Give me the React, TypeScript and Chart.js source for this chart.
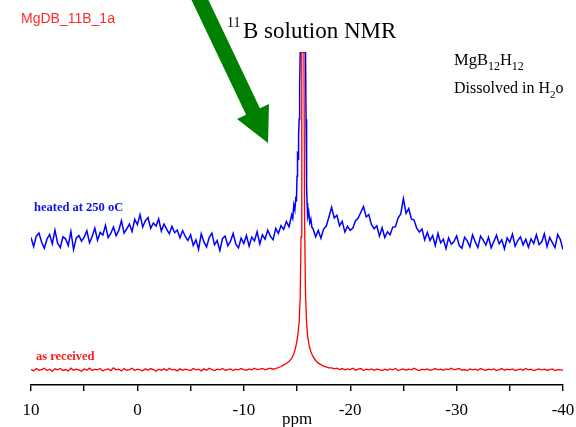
import React, { useEffect, useRef } from "react";
import { Chart, registerables } from "chart.js";

Chart.register(...registerables);

// ---- data (ppm axis reversed, intensity in arbitrary units) ----
const xTicksMajor = [10, 0, -10, -20, -30, -40];

const gridStep = 0.25;

// "heated at 250 oC" spectrum, 10 -> -14.5 ppm every 0.25 ppm
const blueLeftStart = 10;
const blueLeft = [
  44.8, 42.1, 45.2, 46.1, 43.4, 41.6, 44.3, 45.7, 42.9, 47.0, 43.1, 41.8, 45.0, 44.4, 42.4, 46.6, 41.2, 44.6, 45.4, 43.7,
  44.9, 46.8, 43.2, 45.1, 47.6, 44.0, 46.3, 45.5, 48.4, 44.8, 46.0, 47.9, 45.3, 46.9, 49.8, 46.1, 47.4, 48.8, 46.6, 50.2,
  48.6, 51.6, 47.9, 49.8, 50.7, 47.5, 49.1, 48.2, 50.3, 46.7, 48.8, 47.3, 45.9, 48.1, 46.2, 47.0, 44.7, 46.8, 45.1, 43.9,
  45.6, 42.4, 44.1, 41.3, 45.9, 43.5, 42.0, 44.8, 46.1, 42.6, 43.9, 40.9, 44.5, 45.2, 42.3, 43.7, 46.0, 42.8, 41.7, 44.6,
  43.0, 45.4, 42.2, 44.9, 43.8, 46.5, 42.9, 45.6, 44.3, 47.0, 45.2, 44.1, 47.5, 46.0, 48.3, 47.2, 49.6, 48.0, 51.5,
];
// main resonance region
const bluePeakPpm = [-14.6, -14.7, -14.8, -14.9, -14.95, -15.0, -15.05, -15.1, -15.15, -15.2, -15.25, -15.3, -15.5, -15.8, -15.85, -15.9, -15.95, -16.0, -16.1, -16.2, -16.3, -16.4];
const bluePeakVal = [50.5, 54.5, 53.0, 57.0, 55.5, 63.0, 70.5, 68.0, 75.0, 80.0, 90.0, 100, 100, 100, 80.0, 60.0, 55.0, 51.0, 52.5, 49.2, 50.3, 47.8];
// -16.5 -> -40 ppm every 0.25 ppm
const blueRightStart = -16.5;
const blueRight = [
  47.5, 45.0,
  46.9, 44.6, 47.3, 48.2,
  50.9, 53.8, 50.6, 51.4,
  48.3, 49.6, 46.4, 48.1,
  46.9, 47.6, 49.8, 50.6,
  52.3, 54.0, 50.9, 51.6,
  48.6, 47.4, 48.3, 45.2,
  47.7, 44.8, 46.5, 45.6,
  47.9, 48.0, 50.6, 51.8,
  56.4, 52.0, 53.4, 50.3,
  50.0, 47.6, 46.4, 47.3,
  44.1, 46.3, 43.9, 45.4,
  42.4, 46.0, 43.2, 44.3,
  41.5, 44.7, 42.8, 43.6,
  45.3, 42.4, 41.6, 44.9,
  43.8, 42.0, 45.6, 43.5,
  41.8, 45.2, 44.0, 42.5,
  44.9, 41.7, 43.6, 45.5,
  42.9, 44.1, 41.4, 44.7,
  43.4, 45.8, 42.2, 43.9,
  45.0, 42.6, 44.3, 41.9,
  44.4, 43.0, 45.6, 42.7,
  43.5, 45.9, 42.1, 44.8,
  43.3, 41.8, 45.7, 44.2,
  41.2,
];

// "as received" spectrum, every 0.25 ppm away from the resonance
const redLeftStart = 10;
const redLeft = [
  5.6, 5.1, 5.8, 5.3, 5.5, 5.9, 5.2, 5.6, 5.0, 5.7, 5.4, 5.8, 5.2, 5.5, 5.1, 5.9, 5.3, 5.6, 5.4, 5.0,
  5.7, 5.3, 5.9, 5.2, 5.6, 5.4, 5.8, 5.1, 5.5, 5.7, 5.2, 6.0, 5.4, 5.6, 5.1, 5.8, 5.3, 5.5, 5.9, 5.2,
  5.6, 5.4, 5.1, 5.7, 5.3, 5.8, 5.5, 5.0, 5.6, 5.3, 5.7, 5.2, 5.9, 5.4, 5.5, 5.1, 5.7, 5.3, 5.6, 5.4,
  5.2, 5.8, 5.4, 5.6, 5.1, 5.7, 5.3, 5.9, 5.5, 5.2, 5.6, 5.4, 5.8, 5.3, 5.5, 5.7, 5.2, 5.6, 5.4, 5.8,
  5.5, 5.3, 5.7, 5.4, 5.9, 5.5, 5.6, 5.8, 5.4, 5.7, 5.9, 5.6,
];
const redPeakPpm = [-13.0, -13.5, -13.75, -14.0, -14.25, -14.5, -14.7, -14.85, -15.0, -15.1, -15.2, -15.3, -15.38, -15.45, -15.65, -15.72, -15.8, -15.9, -16.0, -16.15, -16.3, -16.5, -16.75, -17.0, -17.5, -18.0];
const redPeakVal = [5.8, 6.4, 6.9, 7.3, 7.9, 8.8, 10.2, 11.8, 14.0, 16.5, 19.5, 27.0, 45.0, 100, 100, 48.0, 28.0, 19.5, 15.5, 12.5, 10.8, 9.4, 8.2, 7.4, 6.5, 6.0];
const redRightStart = -18.25;
const redRight = [
  6.0, 5.7, 5.9, 5.5, 5.8, 5.4, 5.7, 5.5, 5.9, 5.3, 5.6, 5.8, 5.2, 5.6, 5.4, 5.7, 5.3, 5.6, 5.5, 5.2,
  5.6, 5.3, 5.7, 5.4, 5.8, 5.2, 5.5, 5.7, 5.3, 5.6, 5.4, 5.9, 5.5, 5.2, 5.6, 5.4, 5.7, 5.3, 5.5, 5.8,
  5.4, 5.6, 5.3, 5.7, 5.5, 5.9, 5.4, 5.6, 5.8, 5.3, 5.5, 5.2, 5.7, 5.4, 5.6, 5.3, 5.8, 5.5, 5.3, 5.6,
  5.4, 5.7, 5.2, 5.5, 5.8, 5.3, 5.6, 5.4, 5.7, 5.2, 5.5, 5.6, 5.3, 5.8, 5.4, 5.6, 5.2, 5.5, 5.7, 5.4,
  5.6, 5.3, 5.5, 5.7, 5.2, 5.5, 5.4, 5.3,
];

function gridPoints(start: number, step: number, vals: number[]) {
  return vals.map((y, i) => ({ x: start - i * step, y }));
}
function pairPoints(xs: number[], ys: number[]) {
  return xs.map((x, i) => ({ x, y: ys[i] }));
}

const blueData = [
  ...gridPoints(blueLeftStart, gridStep, blueLeft),
  ...pairPoints(bluePeakPpm, bluePeakVal),
  ...gridPoints(blueRightStart, gridStep, blueRight),
];
const redData = [
  ...gridPoints(redLeftStart, gridStep, redLeft),
  ...pairPoints(redPeakPpm, redPeakVal),
  ...gridPoints(redRightStart, gridStep, redRight),
];

const SERIF = '"Liberation Serif", "Times New Roman", serif';
const SANS = '"Liberation Sans", Arial, sans-serif';

function drawRich(ctx: CanvasRenderingContext2D, parts: [string, number, number][], x: number, y: number) {
  let cx = x;
  for (const [t, size, dy] of parts) {
    ctx.font = `${size}px ${SERIF}`;
    ctx.fillText(t, cx, y + dy);
    cx += ctx.measureText(t).width;
  }
}

const annotations = {
  id: "annotations",
  afterDraw(chart: any) {
    const ctx: CanvasRenderingContext2D = chart.ctx;
    ctx.save();
    ctx.textBaseline = "alphabetic";
    ctx.textAlign = "left";

    ctx.fillStyle = "#ff2a2a";
    ctx.font = `14px ${SANS}`;
    ctx.fillText("MgDB_11B_1a", 21, 23);

    ctx.fillStyle = "#000";
    ctx.font = `14px ${SERIF}`;
    ctx.fillText("11", 227, 27);
    ctx.font = `23px ${SERIF}`;
    ctx.fillText("B solution NMR", 243, 38);

    drawRich(ctx, [["MgB", 16.5, 0], ["12", 12, 5], ["H", 16.5, 0], ["12", 12, 5]], 454, 65);
    drawRich(ctx, [["Dissolved in H", 16, 0], ["2", 11, 5], ["o", 16, 0]], 454, 93);

    ctx.font = `bold 12.5px ${SERIF}`;
    ctx.fillStyle = "#1010ee";
    ctx.fillText("heated at 250 oC", 34, 211);
    ctx.fillStyle = "#ff1a1a";
    ctx.fillText("as received", 36, 360);

    // green arrow
    ctx.fillStyle = "#008000";
    ctx.beginPath();
    ctx.moveTo(188.8, -5.7);
    ctx.lineTo(202.6, -12.3);
    ctx.lineTo(259.9, 108.2);
    ctx.lineTo(269, 104);
    ctx.lineTo(268, 143);
    ctx.lineTo(237, 119);
    ctx.lineTo(246.1, 114.8);
    ctx.closePath();
    ctx.fill();
    ctx.restore();
  },
};

export default function App() {
  const ref = useRef<HTMLCanvasElement>(null);
  useEffect(() => {
    document.body.style.margin = "0";
    const chart = new Chart(ref.current!, {
      type: "line",
      data: {
        datasets: [
          { label: "as received", data: redData, borderColor: "#ff0000", borderWidth: 1.3, pointRadius: 0, tension: 0, order: 0 },
          { label: "heated at 250 oC", data: blueData, borderColor: "#0000ff", borderWidth: 1.5, pointRadius: 0, tension: 0, order: 1 },
        ],
      },
      options: {
        responsive: false,
        animation: false,
        layout: { padding: { left: 31, right: 13, top: 52, bottom: 0 } },
        plugins: { legend: { display: false }, tooltip: { enabled: false } },
        scales: {
          x: {
            type: "linear",
            reverse: true,
            min: -40,
            max: 10,
            afterFit: (scale: any) => {
              scale.paddingLeft = 0;
              scale.paddingRight = 0;
            },
            border: { display: true, color: "#000", width: 1.6 },
            grid: { drawOnChartArea: false, drawTicks: true, tickLength: 6, color: "#000", lineWidth: 1.4 },
            ticks: {
              stepSize: 5,
              autoSkip: false,
              maxRotation: 0,
              padding: 9,
              color: "#000",
              font: { family: SERIF, size: 17, lineHeight: 1.2 },
              callback: (v: any) => (xTicksMajor.includes(Number(v)) ? String(v) : ""),
            },
            title: {
              display: true,
              text: "ppm",
              color: "#000",
              font: { family: SERIF, size: 17, lineHeight: 1 },
              padding: { top: -17.9, bottom: -1.5 },
            },
          },
          y: { display: false, min: 0.9, max: 100 },
        },
      },
      plugins: [annotations],
    });
    return () => chart.destroy();
  }, []);
  return (
    <div style={{ width: 576, height: 427, background: "#fff" }}>
      <canvas ref={ref} width={576} height={427} />
    </div>
  );
}
